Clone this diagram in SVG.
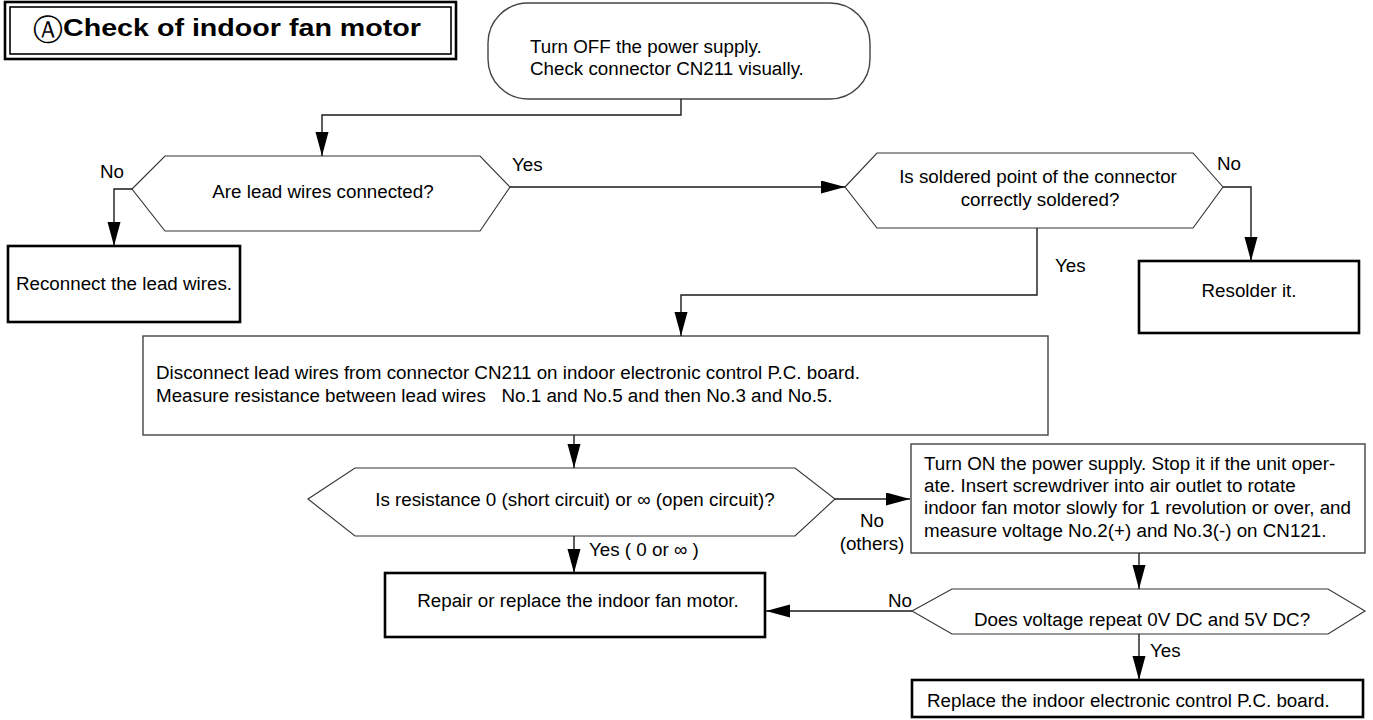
<svg xmlns="http://www.w3.org/2000/svg" width="1373" height="720" viewBox="0 0 1373 720">
<style>
.t{font-family:"Liberation Sans",Arial,sans-serif;font-size:18.8px;fill:#000}
.c{text-anchor:middle}
.term{fill:#fff;stroke:#000;stroke-width:2.6}
.proc{fill:#fff;stroke:#444;stroke-width:1.4}
.dec{fill:#fff;stroke:#333;stroke-width:1.1}
.con{fill:none;stroke:#1a1a1a;stroke-width:1.4}
</style>
<defs>
<marker id="ah" markerUnits="userSpaceOnUse" markerWidth="26" markerHeight="14" refX="24" refY="6.5" orient="auto">
<path d="M0,0 L24,6.5 L0,13 Z" fill="#000"/>
</marker>
</defs>
<rect width="1373" height="720" fill="#fff"/>
<g id="title">
<rect x="5" y="2" width="451" height="57" fill="#fff" stroke="#000" stroke-width="2.6"/>
<rect x="10" y="7" width="441" height="47" fill="none" stroke="#000" stroke-width="1.6"/>
<text x="33" y="40" style="font-family:'DejaVu Sans',sans-serif;font-size:30px">Ⓐ</text>
<text x="63" y="36" textLength="358" lengthAdjust="spacingAndGlyphs" style="font-family:'Liberation Sans',Arial,sans-serif;font-size:24px;font-weight:bold">Check of indoor fan motor</text>
</g>
<g id="start">
<rect x="488" y="3" width="382" height="96" rx="40" ry="40" class="proc" stroke="#333"/>
<text class="t" x="530" y="53">Turn OFF the power supply.</text>
<text class="t" x="530" y="75">Check connector CN211 visually.</text>
</g>
<g id="d1">
<polygon class="dec" points="132,189 165,156 480,156 510,187 480,231 165,231"/>
<text class="t c" x="323" y="198">Are lead wires connected?</text>
</g>
<g id="reconnect">
<rect class="term" x="8" y="246" width="232" height="76"/>
<text class="t c" x="124" y="290">Reconnect the lead wires.</text>
</g>
<g id="d2">
<polygon class="dec" points="845,187 877,153 1193,153 1223,187 1193,228 877,228"/>
<text class="t c" x="1038" y="183">Is soldered point of the connector</text>
<text class="t c" x="1040" y="206">correctly soldered?</text>
</g>
<g id="resolder">
<rect class="term" x="1139" y="261" width="220" height="72"/>
<text class="t c" x="1249" y="297">Resolder it.</text>
</g>
<g id="disconnect">
<rect class="proc" x="143" y="336" width="905" height="99"/>
<text class="t" x="156" y="379">Disconnect lead wires from connector CN211 on indoor electronic control P.C. board.</text>
<text class="t" x="156" y="402" xml:space="preserve">Measure resistance between lead wires   No.1 and No.5 and then No.3 and No.5.</text>
</g>
<g id="d3">
<polygon class="dec" points="308,499 355,468 795,468 835,499 795,536 355,536"/>
<text class="t c" x="575" y="506">Is resistance 0 (short circuit) or ∞ (open circuit)?</text>
</g>
<g id="turnon">
<rect class="proc" x="911" y="444" width="454" height="109"/>
<text class="t" x="924" y="470">Turn ON the power supply. Stop it if the unit oper-</text>
<text class="t" x="924" y="492">ate. Insert screwdriver into air outlet to rotate</text>
<text class="t" x="924" y="514">indoor fan motor slowly for 1 revolution or over, and</text>
<text class="t" x="924" y="537">measure voltage No.2(+) and No.3(-) on CN121.</text>
</g>
<g id="repair">
<rect class="term" x="385" y="573" width="380" height="64"/>
<text class="t c" x="578" y="607">Repair or replace the indoor fan motor.</text>
</g>
<g id="d5">
<polygon class="dec" points="912,611 952,589 1328,589 1365,611 1328,634 952,634"/>
<text class="t c" x="1142" y="626">Does voltage repeat 0V DC and 5V DC?</text>
</g>
<g id="replace">
<rect class="term" x="912" y="680" width="451" height="37"/>
<text class="t" x="927" y="707">Replace the indoor electronic control P.C. board.</text>
</g>
<g id="connectors">
<path class="con" d="M681,99 V115 H322 V156" marker-end="url(#ah)"/>
<path class="con" d="M132,189 H114 V246" marker-end="url(#ah)"/>
<path class="con" d="M510,187 H845" marker-end="url(#ah)"/>
<path class="con" d="M1223,187 H1251 V261" marker-end="url(#ah)"/>
<path class="con" d="M1037,228 V295 H681 V336" marker-end="url(#ah)"/>
<path class="con" d="M574,435 V468" marker-end="url(#ah)"/>
<path class="con" d="M835,499 H910" marker-end="url(#ah)"/>
<path class="con" d="M574,536 V573" marker-end="url(#ah)"/>
<path class="con" d="M1139,553 V589" marker-end="url(#ah)"/>
<path class="con" d="M912,611 H766" marker-end="url(#ah)"/>
<path class="con" d="M1139,634 V680" marker-end="url(#ah)"/>
<text class="t" x="100" y="178">No</text>
<text class="t" x="512" y="171">Yes</text>
<text class="t" x="1217" y="170">No</text>
<text class="t" x="1055" y="272">Yes</text>
<text class="t c" x="872" y="527">No</text>
<text class="t c" x="872" y="550">(others)</text>
<text class="t" x="589" y="556">Yes ( 0 or ∞ )</text>
<text class="t" x="888" y="607">No</text>
<text class="t" x="1150" y="657">Yes</text>
</g>
</svg>
